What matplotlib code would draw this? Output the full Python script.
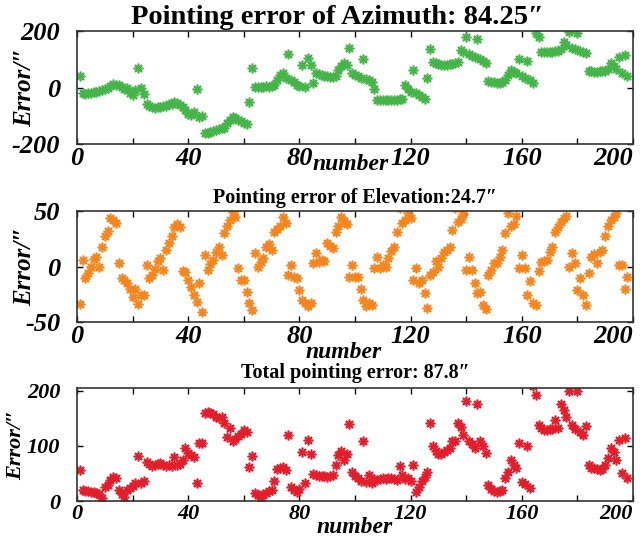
import numpy as np
import matplotlib
matplotlib.use("Agg")
import matplotlib.pyplot as plt

# pointing error of azimuth (arcsec), one value per sample
azimuth = [
    40, -20, -22, -21, -19, -17, -15, -14, -10, -5,
    0, 5, 12, 10, 8, 3, -5, -2, -18, -26,
    -10, 70, 0, -24, -60, -66, -70, -72, -70, -68,
    -66, -64, -60, -58, -50, -55, -62, -70, -80, -95,
    -97, -88, -5, -103, -101, -161, -160, -158, -155, -152,
    -148, -145, -143, -125, -115, -103, -108, -115, -120, -125,
    -130, -50, 69, 3, 2, 2, 3, 4, 3, 5,
    8, 26, 44, 51, 35, 119, 25, 18, 10, 5,
    80, 3, 104, 80, 15, 50, 48, 45, 42, 40,
    38, 38, 42, 62, 75, 86, 80, 140, 51, 45,
    40, 35, 101, 30, 25, 20, -5, -44, -45, -44,
    -43, -44, -45, -44, -43, -42, -40, 9, -5, -16,
    62, -20, -28, -35, -41, 35, 136, 91, 86, 82,
    80, 80, 81, 82, 84, 86, 90, 133, 125, 180,
    118, 112, 108, 172, 100, 95, 88, 22, 19, 18,
    17, 17, 18, 28, 45, 62, 55, 50, 101, 42,
    35, 95, 25, 16, 194, 180, 127, 125, 124, 125,
    126, 128, 130, 135, 162, 150, 198, 140, 135, 194,
    128, 125, 122, 58, 57, 56, 56, 57, 58, 60,
    65, 86, 75, 65, 109, 50, 115, 40,
]

# pointing error of elevation (arcsec)
elevation = [
    -34, 6, -10, -6, 0, 7, 9, 0, 18, 28,
    32, 44, 42, 39, 3, -10, -12, -15, -20, -27,
    -20, -34, -26, -26, 1, -10, -8, -2, 5, 8,
    -3, 15, 21, 28, 36, 38, 36, -4, -5, -12,
    -18, -26, -32, -15, -41, 10, -3, 2, 6, 13,
    18, 10, 30, 37, 42, 49, 45, -1, -12, -12,
    -23, -33, -39, 12, 0, 4, 8, 18, 20, 15,
    31, 34, 37, 45, 39, -8, 1, -9, -10, -21,
    -30, -33, -36, -33, 3, 12, 4, 6, 5, 21,
    19, 17, 31, 37, 45, 41, 38, -9, 1, -9,
    -9, -20, -30, -36, -33, -35, -1, 9, -1, 1,
    0, 8, 14, 18, 31, 53, 39, 42, 48, 44,
    -12, -1, -15, -12, -24, -37, -8, -5, 5, 0,
    8, 13, 15, 18, 33, 53, 40, 43, 47, -3,
    9, -3, -15, -24, -23, -35, -38, -8, -3, 3,
    3, 9, 15, 30, 48, 37, 38, 46, -1, 10,
    -1, -26, -13, -33, -35, -4, 4, 5, 6, 13,
    18, 31, 36, 40, 44, 46, 0, 12, 3, -21,
    -10, -26, -35, -6, 9, 11, 3, 13, 15, 28,
    37, 42, 45, 48, 1, 1, -20, -9,
]

# total pointing error (arcsec)
total = [
    56, 20, 19, 18, 17, 16, 14, 13, 6, 26,
    29, 38, 44, 42, 20, 12, 8, 20, 24, 28,
    33, 82, 33, 36, 71, 68, 63, 66, 68, 69,
    66, 64, 66, 63, 79, 65, 68, 75, 97, 87,
    84, 80, 33, 105, 105, 160, 161, 160, 158, 152,
    151, 153, 142, 117, 132, 108, 112, 118, 122, 129,
    126, 62, 81, 15, 10, 5, 12, 15, 18, 20,
    36, 58, 60, 61, 56, 120, 26, 20, 17, 22,
    89, 33, 111, 85, 49, 47, 46, 45, 45, 44,
    46, 48, 65, 84, 90, 75, 86, 140, 53, 46,
    42, 37, 109, 35, 47, 33, 40, 38, 40, 41,
    40, 42, 41, 40, 39, 64, 47, 40, 41, 36,
    65, 16, 26, 36, 43, 53, 142, 99, 90, 85,
    86, 88, 92, 97, 108, 108, 142, 135, 120, 182,
    108, 104, 96, 176, 108, 100, 87, 29, 22, 18,
    17, 18, 20, 42, 53, 75, 65, 60, 105, 35,
    30, 100, 24, 208, 193, 138, 132, 128, 128, 130,
    130, 147, 132, 176, 165, 153, 200, 138, 130, 200,
    125, 120, 136, 65, 60, 59, 58, 57, 58, 65,
    78, 96, 88, 75, 111, 51, 114, 42,
]

titles = ["Pointing error of Azimuth: 84.25\u2033",
          "Pointing error of Elevation:24.7\u2033",
          "Total pointing error: 87.8\u2033"]
colors = ["#45b549", "#f5861f", "#e31e2c"]
ylims = [(-200, 200), (-50, 50), (0, 205)]
yticks = [[-200, 0, 200], [-50, 0, 50], [0, 100, 200]]
series = [azimuth, elevation, total]

# per panel text sizes / offsets
title_size = [20.5, 14.5, 14.5]
title_pad = [5, 6, 7]
title_x = [0.468, 0.5, 0.5]
tick_size = [19, 19, 16]
ylabel_size = [18, 18, 16]
ylabel_x = [-0.074, -0.074, -0.092]
xlabel_pos = [(0.492, -0.09), (0.48, -0.18), (0.5, -0.14)]

plt.rcParams['font.family'] = ['Liberation Serif', 'DejaVu Serif']
plt.rcParams['axes.unicode_minus'] = False

fig = plt.figure(figsize=(6.44, 5.40), dpi=100)
# axes boxes (left, bottom, width, height) in figure fraction
boxes = [(0.1196, 0.7333, 0.8634, 0.2093),
         (0.1196, 0.4037, 0.8634, 0.2053),
         (0.1196, 0.0722, 0.8634, 0.2093)]

xt = np.arange(0, 201, 20)
xtl = [str(v) if v % 40 == 0 else "" for v in xt]

for i in range(3):
    ax = fig.add_axes(boxes[i])
    y = series[i]
    x = np.arange(1, len(y) + 1)
    ax.plot(x, y, linestyle='none', marker=(8, 2, 0), markersize=7,
            markeredgewidth=1.2, color=colors[i], markeredgecolor=colors[i])
    ax.set_xlim(0, 200)
    ax.set_ylim(ylims[i])
    ax.set_xticks(xt)
    ax.set_xticklabels(xtl)
    ax.set_yticks(yticks[i])
    ax.tick_params(direction='in', top=True, right=True, length=4, width=1,
                   labelsize=tick_size[i])
    ax.tick_params(axis='x', pad=2)
    ax.tick_params(axis='y', pad=12)
    for lab in ax.get_xticklabels() + ax.get_yticklabels():
        lab.set_fontweight('bold')
        lab.set_fontstyle('italic')
    ax.get_xticklabels()[-1].set_horizontalalignment('right')
    for sp in ax.spines.values():
        sp.set_linewidth(1.2)
        sp.set_color('#333333')
    t = ax.set_title(titles[i], fontsize=title_size[i], fontweight='bold',
                     pad=title_pad[i])
    t.set_x(title_x[i])
    ax.set_ylabel("Error/\u2033", fontsize=ylabel_size[i], fontweight='bold',
                  style='italic')
    ax.yaxis.set_label_coords(ylabel_x[i], 0.5)
    ax.set_xlabel("number", fontsize=17, fontweight='bold', style='italic')
    ax.xaxis.set_label_coords(*xlabel_pos[i])

fig.savefig("out.png", dpi=100)
